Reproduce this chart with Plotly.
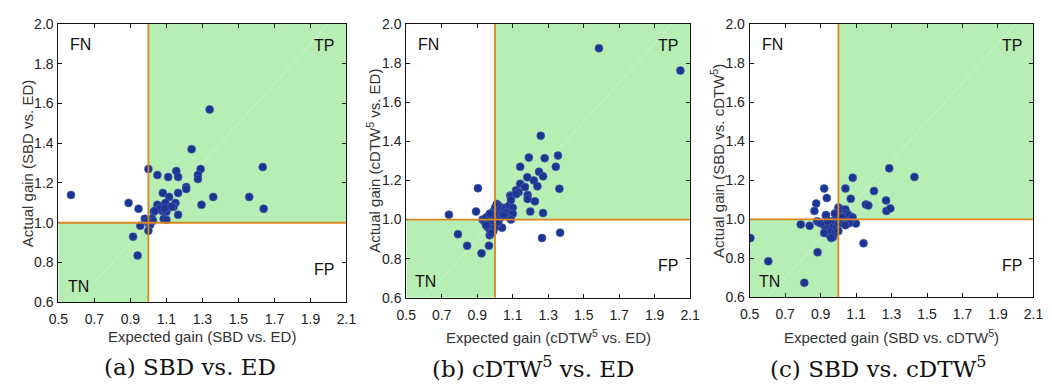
import plotly.graph_objects as go

# ---------------- data ----------------
a_x = [0.57, 1.34, 1.24, 1.00, 1.05, 1.11, 1.155, 1.165, 1.29, 1.275, 1.275, 1.21, 1.21, 1.08, 1.165,
       1.115, 1.36, 1.56, 1.635, 1.64, 1.295, 0.89, 0.945, 1.15, 1.14, 1.095, 1.07, 1.05, 1.075, 1.10,
       1.12, 1.165, 1.03, 1.085, 1.10, 0.98, 1.02, 1.00, 1.01, 0.955, 1.00, 0.915, 0.94, 1.06, 1.13,
       1.09, 1.035, 1.025, 0.995]
a_y = [1.14, 1.57, 1.37, 1.27, 1.24, 1.23, 1.26, 1.23, 1.27, 1.24, 1.22, 1.18, 1.17, 1.15, 1.15,
       1.13, 1.13, 1.13, 1.28, 1.07, 1.09, 1.10, 1.07, 1.10, 1.08, 1.10, 1.08, 1.09, 1.06, 1.055,
       1.08, 1.04, 1.055, 1.02, 1.015, 1.02, 1.02, 1.00, 0.99, 0.985, 0.96, 0.93, 0.835, 1.07, 1.08,
       1.07, 1.06, 1.01, 1.01]

b_x = [1.586, 2.045, 1.258, 1.191, 1.280, 1.355, 1.142, 1.343, 1.248, 1.271, 1.182, 1.219, 1.239,
       1.142, 1.169, 1.119, 1.133, 1.086, 1.363, 1.184, 1.184, 1.225, 1.199, 1.271, 0.904, 0.893,
       0.740, 0.791, 0.843, 0.924, 0.966, 0.970, 1.040, 1.265, 1.367,
       0.93, 0.94, 0.95, 0.96, 0.96, 0.97, 0.97, 0.98, 0.98, 0.99, 0.99, 1.00, 1.00, 1.01, 1.01,
       1.02, 1.02, 1.03, 1.03, 1.04, 1.04, 1.05, 1.06, 1.06, 1.07, 1.08, 1.08, 1.09, 1.09, 1.10,
       1.10, 0.99, 1.00, 1.01, 0.97, 0.95, 1.02, 0.98, 1.05, 1.12, 1.09]
b_y = [1.876, 1.762, 1.428, 1.317, 1.314, 1.327, 1.270, 1.270, 1.244, 1.221, 1.216, 1.200, 1.170,
       1.183, 1.167, 1.150, 1.140, 1.123, 1.157, 1.126, 1.105, 1.093, 1.041, 1.033, 1.160, 1.041,
       1.025, 0.925, 0.866, 0.827, 0.866, 0.920, 0.958, 0.905, 0.933,
       1.00, 0.99, 1.01, 0.98, 0.96, 0.95, 1.00, 0.97, 1.02, 1.04, 0.99, 1.06, 1.02, 1.08, 1.04,
       1.07, 1.03, 1.05, 1.01, 1.06, 1.03, 1.05, 1.02, 1.06, 1.04, 1.01, 1.07, 1.12, 1.10, 1.06,
       1.03, 0.94, 0.96, 0.98, 1.03, 0.97, 0.99, 0.93, 1.02, 1.13, 1.00]

c_x = [0.504, 0.605, 0.808, 0.883, 0.788, 0.838, 0.875, 0.865, 0.920, 0.935, 0.930, 1.040, 1.081,
       1.070, 1.201, 1.155, 1.169, 1.269, 1.271, 1.293, 1.287, 1.429, 1.142, 1.099,
       0.88, 0.89, 0.90, 0.92, 0.93, 0.93, 0.94, 0.95, 0.95, 0.96, 0.96, 0.97, 0.97, 0.98, 0.98,
       0.99, 0.99, 1.00, 1.00, 1.00, 1.01, 1.01, 1.02, 1.02, 1.03, 1.03, 1.04, 1.04, 1.05, 1.05,
       1.06, 1.07, 1.08, 0.94, 0.92, 0.96, 0.98, 1.02, 1.06, 1.04]
c_y = [0.904, 0.785, 0.675, 0.831, 0.974, 0.967, 1.081, 1.043, 1.158, 1.109, 1.022, 1.158, 1.213,
       1.105, 1.145, 1.076, 1.071, 1.097, 1.043, 1.056, 1.261, 1.217, 0.877, 0.978,
       0.99, 0.985, 0.98, 0.97, 1.02, 0.95, 0.93, 0.92, 0.96, 0.94, 0.99, 0.91, 0.97, 0.93, 0.99,
       0.96, 1.01, 1.06, 0.98, 0.94, 1.03, 1.00, 1.05, 0.98, 1.02, 0.99, 1.05, 1.01, 1.03, 0.99,
       1.02, 1.00, 1.01, 0.99, 0.93, 0.905, 1.03, 1.01, 0.98, 0.97]

x_titles = ["Expected gain (SBD vs. ED)", "Expected gain (cDTW<sup>5</sup> vs. ED)",
            "Expected gain (SBD vs. cDTW<sup>5</sup>)"]
y_titles = ["Actual gain (SBD vs. ED)", "Actual gain (cDTW<sup>5</sup> vs. ED)",
            "Actual gain (SBD vs. cDTW<sup>5</sup>)"]
captions = ["(a) SBD vs. ED", "(b) cDTW<sup>5</sup> vs. ED", "(c) SBD vs. cDTW<sup>5</sup>"]
quadrant_labels = ["FN", "TP", "TN", "FP"]
x_ticks = [0.5, 0.7, 0.9, 1.1, 1.3, 1.5, 1.7, 1.9, 2.1]
y_ticks = [0.6, 0.8, 1.0, 1.2, 1.4, 1.6, 1.8, 2.0]
x_range = [0.5, 2.1]
y_range = [0.6, 2.0]
threshold = 1.0

# ---------------- layout geometry (pixels) ----------------
W, H = 1052, 385
panels_px = [  # left, right, top, bottom of plot area
    (49.3, 343.0, 16.7, 307.0),
    (404.0, 693.3, 16.7, 302.3),
    (754.0, 1043.3, 16.7, 302.0),
]
ytitle_x = [17.5, 371.0, 721.0]
caption_x = [183.0, 534.0, 885.0]

GREEN = "#b7eeb4"
ORANGE = "#dc8620"
MARKER = "#1d3592"
FONT = "Liberation Sans"

series = [(a_x, a_y), (b_x, b_y), (c_x, c_y)]

fig = go.Figure()
shapes = []
annotations = []
for i, ((xs, ys), (l, r, t, b)) in enumerate(zip(series, panels_px)):
    n = "" if i == 0 else str(i + 1)
    xa, ya = "x" + n, "y" + n
    fig.add_trace(go.Scatter(
        x=xs, y=ys, mode="markers", xaxis=xa, yaxis=ya,
        marker=dict(size=8, color=MARKER, line=dict(width=0.6, color="#4a62b0")),
        showlegend=False, hoverinfo="x+y"))
    axis_common = dict(showgrid=False, zeroline=False, showline=True, mirror="ticks",
                       linecolor="#111", linewidth=1, ticks="inside", ticklen=4,
                       tickcolor="#111", tickfont=dict(family=FONT, size=14, color="#222"))
    fig.layout["xaxis" + n] = dict(domain=[l / W, r / W], range=x_range, tickvals=x_ticks,
                                   ticktext=[f"{v:.1f}" for v in x_ticks], anchor=ya,
                                   ticklabelstandoff=4, **axis_common)
    fig.layout["yaxis" + n] = dict(domain=[1 - b / H, 1 - t / H], range=y_range, tickvals=y_ticks,
                                   ticktext=[f"{v:.1f}" for v in y_ticks], anchor=xa,
                                   ticklabelstandoff=1, **axis_common)
    # shaded quadrants TP and TN
    shapes.append(dict(type="rect", xref=xa, yref=ya, x0=threshold, x1=x_range[1],
                       y0=threshold, y1=y_range[1], fillcolor=GREEN, line_width=0, layer="below"))
    shapes.append(dict(type="rect", xref=xa, yref=ya, x0=x_range[0], x1=threshold,
                       y0=y_range[0], y1=threshold, fillcolor=GREEN, line_width=0, layer="below"))
    # diagonal
    shapes.append(dict(type="line", xref=xa, yref=ya, x0=y_range[0], y0=y_range[0],
                       x1=y_range[1], y1=y_range[1],
                       line=dict(color="rgba(255,255,255,0.5)", width=0.7), layer="below"))
    # threshold lines
    shapes.append(dict(type="line", xref=xa, yref=ya, x0=threshold, x1=threshold,
                       y0=y_range[0], y1=y_range[1], line=dict(color=ORANGE, width=1.8),
                       layer="above"))
    shapes.append(dict(type="line", xref=xa, yref=ya, x0=x_range[0], x1=x_range[1],
                       y0=threshold, y1=threshold, line=dict(color=ORANGE, width=1.8),
                       layer="above"))
    # quadrant labels
    qpos = [(0.035, 0.965, "left", "top"), (0.965, 0.96, "right", "top"),
            (0.025, 0.02, "left", "bottom"), (0.965, 0.08, "right", "bottom")]
    for lab, (qx, qy, xan, yan) in zip(quadrant_labels, qpos):
        annotations.append(dict(text=lab, xref=xa + " domain", yref=ya + " domain", x=qx, y=qy,
                                xanchor=xan, yanchor=yan, showarrow=False,
                                font=dict(family=FONT, size=16, color="#111")))
    # axis titles
    annotations.append(dict(text=x_titles[i], xref="paper", yref="paper", x=(l + r) / 2 / W,
                            y=1 - 343 / H, xanchor="center", yanchor="middle", showarrow=False,
                            font=dict(family=FONT, size=15, color="#333")))
    annotations.append(dict(text=y_titles[i], xref="paper", yref="paper", x=ytitle_x[i] / W,
                            y=1 - (t + b) / 2 / H, xanchor="center", yanchor="middle",
                            textangle=-90, showarrow=False,
                            font=dict(family=FONT, size=15, color="#333")))
    annotations.append(dict(text=captions[i], xref="paper", yref="paper", x=caption_x[i] / W,
                            y=1 - 375 / H, xanchor="center", yanchor="middle", showarrow=False,
                            font=dict(family="DejaVu Serif", size=23, color="#111")))

fig.update_layout(width=W, height=H, margin=dict(l=0, r=0, t=0, b=0),
                  paper_bgcolor="white", plot_bgcolor="white",
                  shapes=shapes, annotations=annotations)
fig.write_html("out.html")
